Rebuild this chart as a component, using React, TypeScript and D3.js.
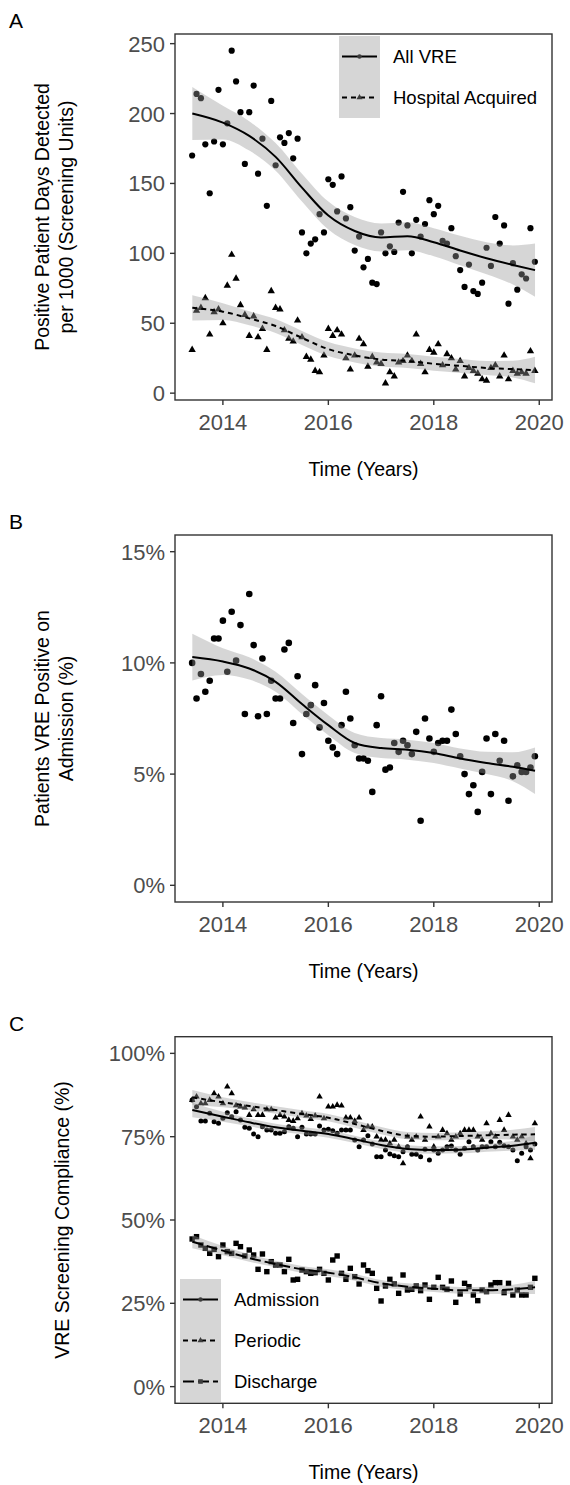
import React from "react";
import * as d3 from "d3";

// Monthly series, June 2013 to December 2019 (79 months)
const START_YEAR = 2013;
const START_MONTH = 6;
const monthYear = (i: number) => START_YEAR + (START_MONTH - 1 + i) / 12;

// Panel A: positive patient days per 1000 (screening units)
const allVre = [
  170, 214, 211, 178, 143, 180, 217, 178, 193, 245,
  223, 201, 164, 201, 220, 157, 182, 134, 209, 163,
  183, 179, 186, 168, 182, 115, 100, 107, 110, 128,
  115, 153, 149, 130, 155, 125, 133, 102, 112, 90,
  96, 79, 78, 115, 100, 105, 101, 122, 144, 120,
  100, 124, 112, 121, 138, 128, 134, 109, 107, 118,
  98, 88, 76, 92, 73, 71, 79, 104, 91, 126,
  107, 120, 64, 93, 74, 85, 82, 118, 94,
];
const hospitalAcquired = [
  31, 59, 61, 68, 42, 58, 60, 50, 77, 99,
  82, 63, 56, 41, 55, 40, 46, 31, 73, 61,
  60, 45, 39, 37, 52, 40, 26, 24, 16, 15,
  27, 46, 41, 45, 42, 25, 17, 27, 39, 35,
  19, 26, 22, 21, 7, 15, 12, 22, 23, 27,
  23, 42, 21, 15, 31, 29, 35, 20, 28, 25,
  17, 23, 12, 18, 16, 14, 10, 9, 18, 20,
  12, 27, 10, 16, 14, 15, 14, 30, 16,
];

// Panel B: patients VRE positive on admission (%)
const positiveOnAdmission = [
  10.0, 8.4, 9.5, 8.7, 9.2, 11.1, 11.1, 11.9, 9.6, 12.3,
  10.1, 11.7, 7.7, 13.1, 10.8, 7.6, 10.2, 7.7, 9.2, 8.4,
  8.4, 10.6, 10.9, 7.3, 9.4, 5.9, 7.7, 8.1, 9.0, 7.1,
  8.2, 6.5, 6.2, 5.9, 7.2, 8.7, 7.5, 6.3, 5.7, 5.7,
  5.6, 4.2, 7.2, 8.5, 5.2, 5.3, 6.4, 6.0, 6.5, 6.3,
  5.9, 6.9, 2.9, 7.5, 6.6, 6.0, 6.4, 6.5, 6.5, 7.9,
  6.8, 5.8, 5.0, 4.1, 4.5, 3.3, 5.1, 6.6, 4.1, 6.8,
  5.6, 6.5, 3.8, 4.9, 5.4, 5.1, 5.1, 5.3, 5.8,
];

// Panel C: screening compliance (%)
const admissionCompliance = [
  86, 84, 79.7, 79.7, 82, 79.5, 79, 80.5, 82.2, 81,
  82.5, 80, 77.8, 77.5, 75.8, 75, 78, 77, 77, 76,
  76, 76.5, 78, 77.5, 75, 77.8, 75.8, 75.8, 75.8, 78.2,
  77, 77.2, 76.8, 76, 77, 77, 77, 74, 72, 74,
  75.3, 72.8, 69, 69, 71, 69.8, 69.3, 69, 70.5, 72,
  69.7, 69.7, 69, 71.2, 68, 71, 70, 71, 72, 72.2,
  71, 69.7, 71.5, 73.5, 72, 71, 72, 72, 73.5, 72,
  73.3, 72.3, 72, 71, 67.8, 70, 72, 71, 72.8,
];
const periodicCompliance = [
  86, 87, 85, 85, 86, 88, 87, 85, 90, 88,
  84.4, 84, 83.7, 81.5, 83.2, 81.5, 81.5, 83.2, 83.2, 80.7,
  81.5, 81, 80, 79.7, 80.5, 82, 81.3, 80.3, 81.3, 87,
  80.5, 84, 84, 84.5, 84.3, 80.7, 80.7, 79.7, 80.7, 77,
  78, 78, 75, 74, 74, 73, 74, 72, 67, 75,
  74, 75, 81, 74, 78, 72, 75, 77, 76, 74,
  75, 76, 77, 77, 77, 75, 74, 79, 76, 75,
  80, 77, 81.5, 75, 74, 75, 73, 68.5, 79,
];
const dischargeCompliance = [
  44.3, 45, 42.5, 41.5, 40, 41.2, 39, 42.5, 40.5, 40,
  43, 42, 39.2, 41, 39.5, 35.2, 39.8, 34.5, 37.5, 36.5,
  36.5, 34.5, 38.2, 32, 32.2, 35, 34.5, 34, 34.2, 35.2,
  34, 32, 38, 39.2, 34, 32.2, 35.5, 33, 30.8, 36.5,
  34.8, 34, 29.5, 25.7, 30.2, 32.2, 30.8, 28, 33.5, 29,
  29.2, 30.2, 28.8, 30.5, 26.2, 29.8, 32.8, 29.8, 29.2, 31.7,
  25.3, 27.8, 31, 30, 27.5, 25.8, 29, 28.5, 30.5, 31.2,
  31.2, 28.2, 31, 27.5, 29, 27.5, 27.5, 29.8, 32.5,
];

// Smoothed trends with their 95% confidence half-widths
const smoothYears = [2013.42, 2014, 2014.5, 2015, 2015.5, 2016, 2016.5, 2017, 2017.5, 2018, 2018.5, 2019, 2019.5, 2019.92];
const allVreFit = [200, 193.5, 184, 169, 147, 127, 116, 111.4, 112.3, 108, 102, 96.5, 91.7, 88];
const allVreBand = [19, 12, 10.5, 10, 10, 10, 10, 10, 10, 10, 10.5, 11.5, 14, 19];
const hospitalFit = [61, 58.3, 53.5, 48, 39.5, 31.5, 27, 24, 23, 21, 19.5, 18, 17.2, 16.5];
const hospitalBand = [9, 6, 5, 5, 5, 5, 5, 5, 5, 5, 5, 5, 6, 9.5];
const positiveFit = [10.26, 10.06, 9.75, 9.15, 8.15, 7.2, 6.4, 6.17, 6.1, 5.95, 5.7, 5.5, 5.33, 5.15];
const positiveBand = [1.05, 0.6, 0.5, 0.45, 0.45, 0.45, 0.45, 0.45, 0.45, 0.45, 0.45, 0.5, 0.65, 1.05];
const admissionFit = [83, 81, 79.3, 77.8, 76.8, 75.8, 74.2, 72.5, 71.3, 71, 71.1, 71.7, 72.3, 73.2];
const admissionBand = [2.2, 1.5, 1.2, 1.1, 1.1, 1.1, 1.1, 1.1, 1.1, 1.1, 1.1, 1.2, 1.5, 2.2];
const periodicFit = [86.8, 85.3, 84.2, 83, 81.8, 80.7, 78.8, 76.8, 75.3, 75, 75.2, 75.4, 75.6, 75.7];
const periodicBand = [2.2, 1.5, 1.2, 1.1, 1.1, 1.1, 1.1, 1.1, 1.1, 1.1, 1.1, 1.2, 1.5, 2.2];
const dischargeFit = [43.5, 40.8, 38.6, 36.8, 35.2, 34.2, 32.8, 31, 30, 29.4, 28.9, 28.9, 29.2, 29.8];
const dischargeBand = [2.0, 1.4, 1.1, 1.0, 1.0, 1.0, 1.0, 1.0, 1.0, 1.0, 1.0, 1.1, 1.4, 2.0];

// Axis ticks
const yearTicks = [2014, 2016, 2018, 2020];
const countTicks = [0, 50, 100, 150, 200, 250];
const positiveTicks = [0, 5, 10, 15];
const complianceTicks = [0, 25, 50, 75, 100];

const FONT = '"Liberation Sans", Arial, Helvetica, sans-serif';
const W = 570;
const H = 1485;
const LEFT = 175;
const RIGHT = 552;

type Shape = "circle" | "triangle" | "square";

interface Series {
  values: number[];
  shape: Shape;
  size: number;
  fit: number[];
  band: number[];
  dash: string | null;
  label: string;
}

interface PanelSpec {
  letter: string;
  top: number;
  bottom: number;
  domain: [number, number];
  ticks: number[];
  fmt: (v: number) => string;
  yTitle: string[];
  series: Series[];
  legend: { x: number; y: number } | null;
}

const n = allVre.length;
const xLo = monthYear(0);
const xHi = monthYear(n - 1);
const xPad = (xHi - xLo) * 0.05;
const xScale = d3.scaleLinear().domain([xLo - xPad, xHi + xPad]).range([LEFT, RIGHT]);

function expand(lo: number, hi: number): [number, number] {
  const p = (hi - lo) * 0.05;
  return [lo - p, hi + p];
}

function Glyph({ shape, x, y, size, fill }: { shape: Shape; x: number; y: number; size: number; fill: string }) {
  if (shape === "circle") return <circle cx={x} cy={y} r={size} fill={fill} />;
  if (shape === "square") return <rect x={x - size} y={y - size} width={size * 2} height={size * 2} fill={fill} />;
  const a = size * 2.3;
  const h = (a * Math.sqrt(3)) / 2;
  const d = `M${x},${y - (2 * h) / 3}L${x + a / 2},${y + h / 3}L${x - a / 2},${y + h / 3}Z`;
  return <path d={d} fill={fill} />;
}

const keyGlyphSize: Record<Shape, number> = { circle: 2.2, triangle: 2.6, square: 2.3 };

function Panel({ spec }: { spec: PanelSpec }) {
  const { top, bottom } = spec;
  const yScale = d3.scaleLinear().domain(spec.domain).range([bottom, top]);
  const midY = (top + bottom) / 2;
  const midX = (LEFT + RIGHT) / 2;
  const area = (s: Series) =>
    d3
      .area<number>()
      .x((_, i) => xScale(smoothYears[i]))
      .y0((v, i) => yScale(v - s.band[i]))
      .y1((v, i) => yScale(v + s.band[i]))
      .curve(d3.curveMonotoneX)(s.fit) || "";
  const line = (s: Series) =>
    d3
      .line<number>()
      .x((_, i) => xScale(smoothYears[i]))
      .y((v) => yScale(v))
      .curve(d3.curveMonotoneX)(s.fit) || "";

  const keyW = 41;
  const keyH = 41;

  return (
    <g>
      <text x={9} y={top - 6} fontFamily={FONT} fontSize={21} fill="#000">
        {spec.letter}
      </text>
      {/* points */}
      {spec.series.map((s, si) => (
        <g key={`p${si}`}>
          {s.values.map((v, i) => (
            <Glyph key={i} shape={s.shape} x={xScale(monthYear(i))} y={yScale(v)} size={s.size} fill="#000" />
          ))}
        </g>
      ))}
      {/* confidence ribbons */}
      {spec.series.map((s, si) => (
        <path key={`r${si}`} d={area(s)} fill="#999999" fillOpacity={0.4} stroke="none" />
      ))}
      {/* trend lines */}
      {spec.series.map((s, si) => (
        <path
          key={`l${si}`}
          d={line(s)}
          fill="none"
          stroke="#000"
          strokeWidth={2}
          strokeDasharray={s.dash || undefined}
        />
      ))}
      {/* panel frame */}
      <rect x={LEFT} y={top} width={RIGHT - LEFT} height={bottom - top} fill="none" stroke="#333" strokeWidth={1.4} />
      {/* y axis */}
      {spec.ticks.map((t) => (
        <g key={`y${t}`}>
          <line x1={LEFT - 5} x2={LEFT} y1={yScale(t)} y2={yScale(t)} stroke="#333" strokeWidth={1.4} />
          <text
            x={LEFT - 10}
            y={yScale(t) + 8}
            textAnchor="end"
            fontFamily={FONT}
            fontSize={22}
            fill="#4D4D4D"
          >
            {spec.fmt(t)}
          </text>
        </g>
      ))}
      {/* x axis */}
      {yearTicks.map((t) => (
        <g key={`x${t}`}>
          <line x1={xScale(t)} x2={xScale(t)} y1={bottom} y2={bottom + 5} stroke="#333" strokeWidth={1.4} />
          <text x={xScale(t)} y={bottom + 30} textAnchor="middle" fontFamily={FONT} fontSize={22} fill="#4D4D4D">
            {t}
          </text>
        </g>
      ))}
      <text x={midX} y={bottom + 76} textAnchor="middle" fontFamily={FONT} fontSize={19.5} fill="#000">
        Time (Years)
      </text>
      {spec.yTitle.map((line, i) => {
        const count = spec.yTitle.length;
        const cx = count === 1 ? 62 : 42 + i * 24;
        return (
          <text
            key={i}
            transform={`translate(${cx},${midY}) rotate(-90)`}
            textAnchor="middle"
            dominantBaseline="central"
            fontFamily={FONT}
            fontSize={19.5}
            fill="#000"
          >
            {line}
          </text>
        );
      })}
      {/* legend */}
      {spec.legend && (
        <g>
          {spec.series.map((s, i) => {
            const kx = spec.legend!.x;
            const ky = spec.legend!.y + i * keyH;
            const cy = ky + keyH / 2;
            return (
              <g key={`k${i}`}>
                <rect x={kx} y={ky} width={keyW} height={keyH} fill="#D6D6D6" />
                <line
                  x1={kx + 3}
                  x2={kx + keyW - 3}
                  y1={cy}
                  y2={cy}
                  stroke="#000"
                  strokeWidth={2}
                  strokeDasharray={s.dash || undefined}
                />
                <Glyph shape={s.shape} x={kx + keyW / 2} y={cy} size={keyGlyphSize[s.shape]} fill="#3D3D3D" />
                <text x={kx + keyW + 13} y={cy} dominantBaseline="central" fontFamily={FONT} fontSize={18.5} fill="#000">
                  {s.label}
                </text>
              </g>
            );
          })}
        </g>
      )}
    </g>
  );
}

const panels: PanelSpec[] = [
  {
    letter: "A",
    top: 34,
    bottom: 400,
    domain: expand(d3.min([...allVre, ...hospitalAcquired])!, d3.max([...allVre, ...hospitalAcquired])!),
    ticks: countTicks,
    fmt: (v) => String(v),
    yTitle: ["Positive Patient Days Detected", "per 1000 (Screening Units)"],
    series: [
      { values: allVre, shape: "circle", size: 3.1, fit: allVreFit, band: allVreBand, dash: null, label: "All VRE" },
      { values: hospitalAcquired, shape: "triangle", size: 3.2, fit: hospitalFit, band: hospitalBand, dash: "5,4", label: "Hospital Acquired" },
    ],
    legend: { x: 339, y: 36 },
  },
  {
    letter: "B",
    top: 535,
    bottom: 902,
    domain: expand(0, 15),
    ticks: positiveTicks,
    fmt: (v) => `${v}%`,
    yTitle: ["Patients VRE Positive on", "Admission (%)"],
    series: [
      { values: positiveOnAdmission, shape: "circle", size: 3.3, fit: positiveFit, band: positiveBand, dash: null, label: "" },
    ],
    legend: null,
  },
  {
    letter: "C",
    top: 1036.7,
    bottom: 1403.3,
    domain: expand(0, 100),
    ticks: complianceTicks,
    fmt: (v) => `${v}%`,
    yTitle: ["VRE Screening Compliance (%)"],
    series: [
      { values: admissionCompliance, shape: "circle", size: 2.5, fit: admissionFit, band: admissionBand, dash: null, label: "Admission" },
      { values: periodicCompliance, shape: "triangle", size: 2.8, fit: periodicFit, band: periodicBand, dash: "5,4", label: "Periodic" },
      { values: dischargeCompliance, shape: "square", size: 2.7, fit: dischargeFit, band: dischargeBand, dash: "11,4", label: "Discharge" },
    ],
    legend: { x: 180, y: 1279 },
  },
];

export default function App() {
  return (
    <svg
      width={W}
      height={H}
      viewBox={`0 0 ${W} ${H}`}
      style={{ position: "absolute", left: 0, top: 0, display: "block", background: "#fff" }}
    >
      <rect width={W} height={H} fill="#fff" />
      {panels.map((p) => (
        <Panel key={p.letter} spec={p} />
      ))}
    </svg>
  );
}
